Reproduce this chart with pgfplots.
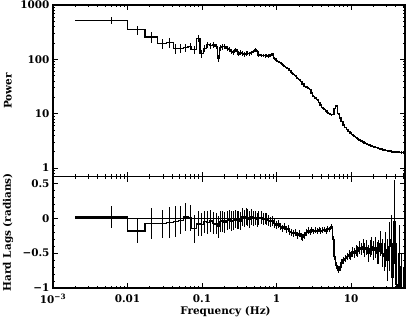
\documentclass[border=0pt]{standalone}
\usepackage{fontspec}
\setmainfont{DejaVu Serif}
\usepackage{pgfplots}
\usepackage{pgfplotstable}
\pgfplotsset{compat=1.18}

\pgfplotstableread{
xl xc y e
0.002 0.006 520 80
0.010 0.0135 350 65
0.0172 0.021 257 55
0.025 0.029 195 40
0.0336 0.037 205 40
0.041 0.044 158 35
0.048 0.052 160 30
0.056 0.060 165 28
0.065 0.069 175 28
0.073 0.079 150 25
0.085 0.089 240 35
0.094 0.099 127 22
0.104 0.109 160 25
0.115 0.120 185 25
0.125 0.131 180 22
0.137 0.143 185 22
0.150 0.156 175 20
0.163 0.167 104 15
0.172 0.178 165 20
0.185 0.190 170 20
0.196 0.203 170 18
0.210 0.217 160 18
0.225 0.232 150 16
0.240 0.247 140 15
0.255 0.262 135 15
0.270 0.278 150 15
0.287 0.295 140 14
0.303 0.312 125 12
0.322 0.331 135 12
0.340 0.350 128 12
0.360 0.370 122 12
0.380 0.390 128 12
0.400 0.412 130 11
0.425 0.437 128 11
0.450 0.462 133 11
0.475 0.490 140 11
0.505 0.520 150 12
0.535 0.550 140 11
0.565 0.580 120 9
0.600 0.620 118 9
0.640 0.660 118 9
0.680 0.700 117 9
0.720 0.740 118 8
0.760 0.790 116 8
0.810 0.840 120 8
0.865 0.890 125 8
0.920 0.950 105 6
0.980 1.010 95 5
1.04 1.07 90 4
1.10 1.13 87 4
1.16 1.19 80 4
1.23 1.27 75 3
1.31 1.35 70 3
1.39 1.43 67 3
1.47 1.51 63 3
1.56 1.60 57 2
1.65 1.70 53 2
1.75 1.80 50 2
1.85 1.90 45 2
1.96 2.02 42 2
2.08 2.14 39 1.5
2.20 2.26 35 1.5
2.33 2.39 32 1.5
2.46 2.53 31 1.2
2.60 2.67 29.5 1.2
2.75 2.82 28 1
2.90 2.98 24 1
3.07 3.15 21 1
3.24 3.33 19.5 0.8
3.43 3.52 18 0.8
3.62 3.72 16 0.7
3.83 3.93 14.5 0.6
4.05 4.15 13 0.5
4.27 4.38 12 0.5
4.51 4.63 11.2 0.4
4.76 4.88 10.5 0.4
5.03 5.16 10 0.4
5.31 5.45 9.6 0.4
5.61 5.75 9.8 0.4
5.92 6.07 12.5 0.5
6.25 6.41 13.8 0.5
6.60 6.77 10 0.4
6.97 7.15 8.3 0.3
7.36 7.55 7.2 0.3
7.77 7.97 6.2 0.3
8.20 8.41 5.6 0.2
8.66 8.88 5.1 0.2
9.14 9.38 4.7 0.2
9.65 9.90 4.4 0.2
10.2 10.5 4.1 0.15
10.8 11.1 3.85 0.15
11.4 11.7 3.62 0.1
12.0 12.3 3.45 0.1
12.7 13.0 3.3 0.1
13.4 13.7 3.15 0.1
14.1 14.5 3.0 0.1
14.9 15.3 2.9 0.1
15.7 16.1 2.8 0.1
16.6 17.0 2.7 0.1
17.5 18.0 2.62 0.1
18.5 19.0 2.55 0.1
19.5 20.0 2.48 0.1
20.6 21.1 2.42 0.1
21.7 22.3 2.36 0.1
22.9 23.5 2.3 0.1
24.2 24.8 2.25 0.1
25.5 26.2 2.2 0.1
27.0 27.7 2.16 0.1
28.5 29.2 2.12 0.1
30.0 30.8 2.08 0.1
31.7 32.5 2.05 0.1
33.5 34.4 2.02 0.1
35.3 36.3 2.0 0.1
37.3 38.3 1.98 0.1
39.4 40.4 1.97 0.1
41.6 42.7 1.96 0.1
43.9 45.1 1.96 0.1
46.4 47.6 1.95 0.1
49.0 50.3 1.95 0.1
53.0 53.0 1.95 0
}\powtab

\pgfplotstableread{
xl xc y e
0.002 0.006 0.02 0.16
0.010 0.0135 -0.18 0.18
0.0172 0.021 -0.077 0.22
0.025 0.029 -0.077 0.20
0.0336 0.037 -0.06 0.22
0.041 0.044 -0.05 0.22
0.048 0.052 -0.03 0.20
0.056 0.060 0.02 0.20
0.065 0.069 0.005 0.18
0.073 0.079 -0.15 0.20
0.085 0.089 -0.08 0.18
0.094 0.099 -0.09 0.17
0.104 0.109 -0.05 0.16
0.115 0.120 -0.06 0.16
0.125 0.131 -0.04 0.16
0.137 0.143 -0.07 0.16
0.150 0.156 -0.08 0.15
0.163 0.167 -0.12 0.16
0.172 0.178 -0.05 0.15
0.185 0.190 -0.04 0.15
0.196 0.203 -0.06 0.15
0.210 0.217 -0.03 0.14
0.225 0.232 -0.02 0.14
0.240 0.247 -0.04 0.14
0.255 0.262 -0.03 0.14
0.270 0.278 -0.01 0.13
0.287 0.295 -0.03 0.13
0.303 0.312 -0.02 0.13
0.322 0.331 -0.04 0.13
0.340 0.350 0.02 0.13
0.360 0.370 0.0 0.12
0.380 0.390 0.03 0.12
0.400 0.412 0.01 0.12
0.425 0.437 -0.02 0.12
0.450 0.462 0.02 0.11
0.475 0.490 0.0 0.11
0.505 0.520 0.01 0.10
0.535 0.550 -0.02 0.10
0.565 0.580 0.0 0.10
0.600 0.620 0.01 0.09
0.640 0.660 -0.01 0.09
0.680 0.700 0.0 0.08
0.720 0.740 -0.01 0.08
0.760 0.790 -0.03 0.08
0.810 0.840 -0.05 0.07
0.865 0.890 -0.04 0.07
0.920 0.950 -0.07 0.07
0.980 1.010 -0.1 0.06
1.04 1.07 -0.08 0.06
1.10 1.13 -0.12 0.05
1.16 1.19 -0.14 0.05
1.23 1.27 -0.12 0.05
1.31 1.35 -0.16 0.05
1.39 1.43 -0.15 0.05
1.47 1.51 -0.19 0.05
1.56 1.60 -0.2 0.05
1.65 1.70 -0.22 0.05
1.75 1.80 -0.2 0.05
1.85 1.90 -0.24 0.05
1.96 2.02 -0.22 0.05
2.08 2.14 -0.26 0.05
2.20 2.26 -0.28 0.05
2.33 2.39 -0.24 0.05
2.46 2.53 -0.2 0.05
2.60 2.67 -0.18 0.05
2.75 2.82 -0.2 0.04
2.90 2.98 -0.16 0.04
3.07 3.15 -0.19 0.04
3.24 3.33 -0.17 0.04
3.43 3.52 -0.18 0.04
3.62 3.72 -0.16 0.04
3.83 3.93 -0.18 0.04
4.05 4.15 -0.17 0.04
4.27 4.38 -0.16 0.04
4.51 4.63 -0.18 0.04
4.76 4.88 -0.15 0.04
5.03 5.16 -0.16 0.04
5.31 5.45 -0.12 0.04
5.61 5.75 -0.3 0.04
5.92 6.07 -0.55 0.05
6.25 6.41 -0.68 0.05
6.60 6.77 -0.74 0.05
6.97 7.15 -0.7 0.05
7.36 7.55 -0.64 0.05
7.77 7.97 -0.6 0.05
8.20 8.41 -0.58 0.05
8.66 8.88 -0.55 0.05
9.14 9.38 -0.52 0.06
9.65 9.90 -0.54 0.06
10.2 10.5 -0.48 0.07
10.8 11.1 -0.5 0.07
11.4 11.7 -0.46 0.08
12.0 12.3 -0.48 0.08
12.7 13.0 -0.42 0.09
13.4 13.7 -0.44 0.09
14.1 14.5 -0.4 0.10
14.9 15.3 -0.45 0.10
15.7 16.1 -0.42 0.11
16.6 17.0 -0.5 0.12
17.5 18.0 -0.43 0.12
18.5 19.0 -0.4 0.13
19.5 20.0 -0.46 0.14
20.6 21.1 -0.42 0.15
21.7 22.3 -0.5 0.16
22.9 23.5 -0.48 0.17
24.2 24.8 -0.36 0.18
25.5 26.2 -0.5 0.2
27.0 27.7 -0.55 0.2
28.5 29.2 -0.45 0.25
30.0 30.8 -0.6 0.3
31.7 32.5 -0.4 0.35
33.5 34.4 -0.3 0.35
35.3 36.3 -0.85 0.5
37.3 38.3 -0.05 0.6
39.4 40.4 -0.95 0.6
41.6 42.7 -1.2 0.7
43.9 45.1 -0.7 0.6
46.4 47.6 -1.3 0.8
49.0 50.3 -1.5 0.8
53.0 53.0 -1.5 0
}\lagtab

\begin{document}
\begin{tikzpicture}
\useasboundingbox (-53bp,5bp) rectangle (357bp,-314bp);
\begin{axis}[
  scale only axis,
  width=352bp,
  xmode=log,
  xmin=0.001, xmax=53,
  axis line style={line width=1.1bp},
  major tick length=5bp,
  minor tick length=2.5bp,
  tick style={black, line width=0.9bp},
  xtick={0.001,0.01,0.1,1,10},
  minor xtick={0.002,0.003,0.004,0.005,0.006,0.007,0.008,0.009,0.02,0.03,0.04,0.05,0.06,0.07,0.08,0.09,0.2,0.3,0.4,0.5,0.6,0.7,0.8,0.9,2,3,4,5,6,7,8,9,20,30,40,50},
  tick label style={font=\fontsize{10.5}{12}\selectfont\bfseries},
  label style={font=\fontsize{10.5}{12}\selectfont\bfseries},
  tick align=inside,
  name=top, at={(0,0)}, anchor=north west,
  height=171.5bp,
  ymode=log, ymin=0.7, ymax=1000,
  ytick={1,10,100,1000},
  yticklabels={1,10,100,1000},
  minor ytick={0.7,0.8,0.9,2,3,4,5,6,7,8,9,20,30,40,50,60,70,80,90,200,300,400,500,600,700,800,900},
  xticklabels={},
  ylabel={Power},
  ylabel style={at={(axis description cs:-0.128,0.5)}, anchor=center},
]
\addplot[black, line width=1.3bp, const plot, mark=none] table[x=xl, y=y] {\powtab};
\addplot[draw=none, mark=none, forget plot,
    error bars/y dir=both, error bars/y explicit, error bars/error mark=none,
    error bars/error bar style={draw=black, line width=0.9bp}]
    table[x=xc, y=y, y error=e] {\powtab};
\end{axis}
\begin{axis}[
  scale only axis,
  width=352bp,
  xmode=log,
  xmin=0.001, xmax=53,
  axis line style={line width=1.1bp},
  major tick length=5bp,
  minor tick length=2.5bp,
  tick style={black, line width=0.9bp},
  xtick={0.001,0.01,0.1,1,10},
  minor xtick={0.002,0.003,0.004,0.005,0.006,0.007,0.008,0.009,0.02,0.03,0.04,0.05,0.06,0.07,0.08,0.09,0.2,0.3,0.4,0.5,0.6,0.7,0.8,0.9,2,3,4,5,6,7,8,9,20,30,40,50},
  tick label style={font=\fontsize{10.5}{12}\selectfont\bfseries},
  label style={font=\fontsize{10.5}{12}\selectfont\bfseries},
  tick align=inside,
  at={(0,-171.5bp)}, anchor=north west,
  height=111.5bp,
  ymin=-1, ymax=0.6,
  ytick={-1,-0.5,0,0.5},
  yticklabels={−1,−0.5,0,0.5},
  minor ytick={-0.9,-0.8,-0.7,-0.6,-0.4,-0.3,-0.2,-0.1,0.1,0.2,0.3,0.4},
  xticklabels={10\textsuperscript{−3},0.01,0.1,1,10},
  xticklabel style={yshift=-3bp},
  xlabel={Frequency (Hz)},
  xlabel style={at={(axis description cs:0.49,-0.215)}, anchor=center},
  ylabel={Hard Lags (radians)},
  ylabel style={at={(axis description cs:-0.128,0.5)}, anchor=center},
]
\addplot[black, line width=0.8bp] coordinates {(0.002,0) (53,0)};
\addplot[black, line width=1.3bp, const plot, mark=none] table[x=xl, y=y] {\lagtab};
\addplot[draw=none, mark=none, forget plot,
    error bars/y dir=both, error bars/y explicit, error bars/error mark=none,
    error bars/error bar style={draw=black, line width=0.9bp}]
    table[x=xc, y=y, y error=e] {\lagtab};
\end{axis}
\end{tikzpicture}
\end{document}
